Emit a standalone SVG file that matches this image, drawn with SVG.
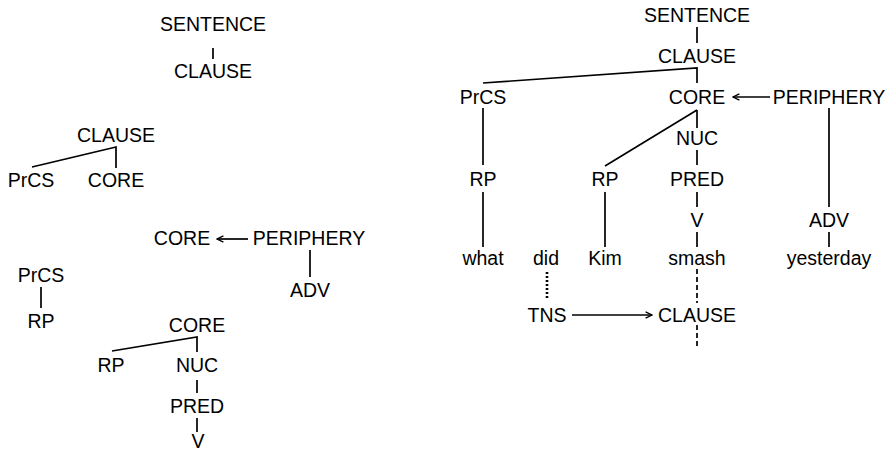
<svg xmlns="http://www.w3.org/2000/svg" width="888" height="453" viewBox="0 0 888 453">
  <style>
    text { font-family: "Liberation Sans", Arial, Helvetica, sans-serif; font-size: 19.5px; fill: #000; text-anchor: middle; }
    .ln { stroke: #000; stroke-width: 1.7; fill: none; }
    .dash { stroke-dasharray: 5 3; }
    .dot { stroke-width: 2.6; stroke-dasharray: 2 2; }
    .arr { marker-end: url(#head); }
  </style>
  <defs>
    <marker id="head" viewBox="0 0 10 10" refX="9" refY="5" markerWidth="8" markerHeight="8" markerUnits="userSpaceOnUse" orient="auto">
      <path d="M1,1 L9,5 L1,9" fill="none" stroke="#000" stroke-width="1.7"/>
    </marker>
  </defs>

  <rect width="888" height="453" fill="#fff"/>

  <!-- connectors -->
  <g id="connectors">
    <!-- small trees, left column -->
    <line class="ln" x1="213" y1="48" x2="213" y2="59"/>
    <polyline class="ln" points="32,167 116,147 116,168"/>
    <line class="ln arr" x1="248" y1="239" x2="217" y2="239"/>
    <line class="ln" x1="310" y1="250" x2="310" y2="277"/>
    <line class="ln" x1="41" y1="287" x2="41" y2="308"/>
    <polyline class="ln" points="112,351 197,337 197,352"/>
    <line class="ln" x1="197" y1="380" x2="197" y2="393"/>
    <line class="ln" x1="197" y1="418" x2="197" y2="432"/>

    <!-- full tree, right -->
    <line class="ln" x1="697" y1="27" x2="697" y2="43"/>
    <polyline class="ln" points="483,83 697,68 697,83"/>
    <line class="ln arr" x1="770" y1="97" x2="733" y2="97"/>
    <line class="ln" x1="829" y1="108" x2="829" y2="207"/>
    <line class="ln" x1="829" y1="232" x2="829" y2="247"/>
    <line class="ln" x1="483" y1="108" x2="483" y2="165"/>
    <line class="ln" x1="483" y1="192" x2="483" y2="247"/>
    <line class="ln" x1="697" y1="110" x2="605" y2="166"/>
    <line class="ln" x1="605" y1="192" x2="605" y2="247"/>
    <line class="ln" x1="697" y1="110" x2="697" y2="128"/>
    <line class="ln" x1="697" y1="150" x2="697" y2="165"/>
    <line class="ln" x1="697" y1="192" x2="697" y2="207"/>
    <line class="ln" x1="697" y1="232" x2="697" y2="247"/>
    <line class="ln dash" x1="697" y1="269" x2="697" y2="303"/>
    <line class="ln dash" x1="697" y1="325" x2="697" y2="346"/>
    <line class="ln dot" x1="547" y1="272" x2="547" y2="300"/>
    <line class="ln arr" x1="572" y1="315" x2="652" y2="315"/>
  </g>

  <!-- left column nodes -->
  <g id="s1-sentence"><text x="213" y="31">SENTENCE</text></g>
  <g id="s1-clause"><text x="213" y="78">CLAUSE</text></g>

  <g id="s2-clause"><text x="116" y="142">CLAUSE</text></g>
  <g id="s2-prcs"><text x="31" y="187">PrCS</text></g>
  <g id="s2-core"><text x="116" y="187">CORE</text></g>

  <g id="s3-core"><text x="182" y="245">CORE</text></g>
  <g id="s3-periphery"><text x="309" y="245">PERIPHERY</text></g>
  <g id="s3-adv"><text x="310" y="297">ADV</text></g>

  <g id="s4-prcs"><text x="41" y="282">PrCS</text></g>
  <g id="s4-rp"><text x="41" y="328">RP</text></g>

  <g id="s5-core"><text x="197" y="332">CORE</text></g>
  <g id="s5-rp"><text x="111" y="372">RP</text></g>
  <g id="s5-nuc"><text x="197" y="372">NUC</text></g>
  <g id="s5-pred"><text x="197" y="413">PRED</text></g>
  <g id="s5-v"><text x="198" y="448">V</text></g>

  <!-- full tree nodes -->
  <g id="t-sentence"><text x="697" y="22">SENTENCE</text></g>
  <g id="t-clause"><text x="697" y="63">CLAUSE</text></g>
  <g id="t-prcs"><text x="483" y="104">PrCS</text></g>
  <g id="t-core"><text x="697" y="104">CORE</text></g>
  <g id="t-periphery"><text x="829" y="104">PERIPHERY</text></g>
  <g id="t-nuc"><text x="697" y="145">NUC</text></g>
  <g id="t-rp1"><text x="483" y="186">RP</text></g>
  <g id="t-rp2"><text x="605" y="186">RP</text></g>
  <g id="t-pred"><text x="697" y="186">PRED</text></g>
  <g id="t-v"><text x="697" y="227">V</text></g>
  <g id="t-adv"><text x="829" y="227">ADV</text></g>
  <g id="t-what"><text x="483" y="265">what</text></g>
  <g id="t-did"><text x="546" y="265">did</text></g>
  <g id="t-kim"><text x="605" y="265">Kim</text></g>
  <g id="t-smash"><text x="697" y="265">smash</text></g>
  <g id="t-yesterday"><text x="829" y="265">yesterday</text></g>
  <g id="t-tns"><text x="547" y="322">TNS</text></g>
  <g id="t-clause2"><text x="697" y="322">CLAUSE</text></g>
</svg>
